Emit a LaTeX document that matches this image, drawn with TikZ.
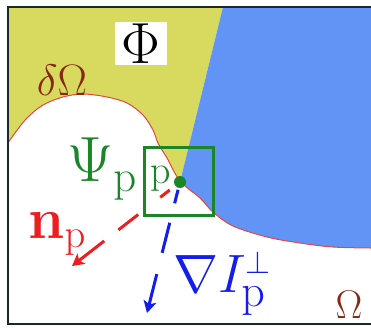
\RequirePackage{fix-cm}
\documentclass[tikz,border=0pt]{standalone}
\usetikzlibrary{arrows.meta}
\definecolor{yel}{RGB}{216,218,96}
\definecolor{blu}{RGB}{98,148,246}
\definecolor{crv}{RGB}{232,70,60}
\definecolor{grn}{RGB}{25,135,40}
\definecolor{rd}{RGB}{236,30,30}
\definecolor{bl}{RGB}{20,30,235}
\definecolor{brn}{RGB}{135,40,20}
\definecolor{frm}{RGB}{25,40,40}
\newcommand{\myfs}[1]{\fontsize{#1}{#1}\selectfont}
\begin{document}
\begin{tikzpicture}[x=1pt,y=-1pt,
  lab/.style={inner sep=0pt},
  arr/.style={line width=3pt,-{Stealth[length=12pt,width=13pt,inset=3pt]}}]
\useasboundingbox (0,0) rectangle (371,327);
\begin{scope}
\clip plot[smooth,tension=0.55] coordinates {(8,143) (15,133) (27,118) (43,105) (63,97) (83,94) (107,97) (127,103) (143,115) (153,130) (158,143) (167,158) (180,181) (200,198) (213,212) (233,226) (267,237) (300,243) (333,247) (371,248)} -- (371,7) -- (8,7) -- cycle;
\fill[yel] (8,7) -- (223,7) -- (176.1,198) -- (8,198) -- cycle;
\fill[blu] (223,7) -- (371,7) -- (371,260) -- (176.1,260) -- (176.1,198) -- cycle;
\end{scope}
\draw[crv,line width=1pt] plot[smooth,tension=0.55] coordinates {(8,143) (15,133) (27,118) (43,105) (63,97) (83,94) (107,97) (127,103) (143,115) (153,130) (158,143) (167,158) (180,181) (200,198) (213,212) (233,226) (267,237) (300,243) (333,247) (371,248)};
\node[lab,fill=white,minimum width=52pt,minimum height=43pt] (phi) at (141,43.5) {\myfs{58}$\Phi$};
\node[lab,text=brn] (dom) at (62,80) {\myfs{44}$\delta\Omega$};
\node[lab,text=brn] (om) at (349,305) {\myfs{40}$\Omega$};
\node[draw=grn,line width=3pt,minimum width=69pt,minimum height=68pt,inner sep=0pt] (box) at (178.5,181) {};
\coordinate (P) at (180,182);
\coordinate (nend) at (72,266);
\coordinate (gend) at (147,313);
\draw[arr,rd,shorten <=13pt,dash pattern=on 12pt off 28pt on 25pt off 18pt on 80pt] (P) -- (nend);
\draw[arr,bl,shorten <=8pt,dash pattern=on 14pt off 20pt on 31pt off 22pt on 80pt] (P) -- (gend);
\node[circle,fill=grn,inner sep=0pt,minimum size=12pt] (pdot) at (P) {};
\node[lab,text=grn] (psi) at (102,169) {\myfs{64}$\Psi_{\mathrm{p}}$};
\node[lab,text=grn] (plab) at (161,179) {\myfs{40}p};
\node[lab,text=rd] (np) at (57,234) {\myfs{58}$\mathbf{n}_{\mathrm{p}}$};
\node[lab,text=bl] (grad) at (222,283) {\myfs{54}$\nabla I^{\mbox{\myfs{32}$\perp$}}_{\mbox{\myfs{46}$\mathrm{p}$}}$};
\draw[frm,line width=2pt] (371,7) -- (8,7) -- (8,324) -- (371,324);
\end{tikzpicture}
\end{document}
